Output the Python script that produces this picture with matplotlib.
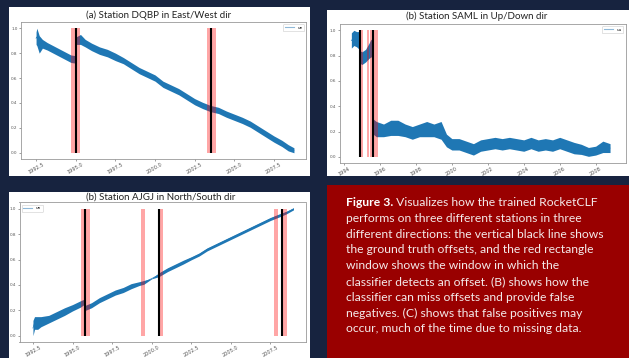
import matplotlib
matplotlib.use('Agg')
import matplotlib.pyplot as plt
import numpy as np
from matplotlib.patches import Rectangle
from matplotlib.lines import Line2D

# ---------------- data ----------------
# (a) Station DQBP, East/West
a_years  = [1992.5, 1992.55, 1992.7, 1992.9, 1993.2, 1993.5, 1993.8, 1994.1, 1994.4, 1994.7, 1994.98,
            1995.02, 1995.3, 1995.6, 1996.0, 1996.5, 1997.0, 1997.5, 1998.0, 1998.5, 1999.0, 1999.5,
            2000.0, 2000.5, 2001.0, 2001.5, 2002.0, 2002.5, 2003.0, 2003.5, 2004.0, 2004.5, 2005.0,
            2005.5, 2006.0, 2006.5, 2007.0, 2007.5, 2008.0, 2008.4, 2008.76]
a_center = [0.92, 0.93, 0.87, 0.875, 0.855, 0.835, 0.815, 0.795, 0.775, 0.755, 0.75,
            0.90, 0.91, 0.88, 0.85, 0.82, 0.80, 0.77, 0.74, 0.70, 0.66, 0.63,
            0.60, 0.55, 0.52, 0.49, 0.45, 0.41, 0.38, 0.355, 0.34, 0.31, 0.285,
            0.26, 0.23, 0.19, 0.15, 0.11, 0.075, 0.04, 0.02]
a_spread = [0.05, 0.07, 0.07, 0.035, 0.03, 0.03, 0.03, 0.03, 0.03, 0.03, 0.03,
            0.03, 0.04, 0.03, 0.03, 0.03, 0.03, 0.03, 0.025, 0.025, 0.025, 0.025,
            0.025, 0.025, 0.025, 0.025, 0.025, 0.025, 0.025, 0.025, 0.025, 0.025, 0.025,
            0.025, 0.025, 0.025, 0.025, 0.025, 0.025, 0.025, 0.02]
a_windows = [(1994.69, 1995.28), (2003.25, 2003.82)]
a_truth = [1995.0, 2003.53]

# (b) Station SAML, Up/Down
b_years  = [1994.41, 1994.55, 1994.7, 1994.85, 1994.88, 1995.0, 1995.2, 1995.4, 1995.5, 1995.6,
            1995.62, 1995.8, 1996.2, 1996.6, 1997.0, 1997.4, 1997.8, 1998.2, 1998.6, 1999.0,
            1999.4, 1999.7, 2000.0, 2000.4, 2000.8, 2001.2, 2001.6, 2002.0, 2002.4, 2002.8,
            2003.2, 2003.6, 2004.0, 2004.4, 2004.8, 2005.2, 2005.6, 2006.0, 2006.4, 2006.8,
            2007.2, 2007.6, 2008.0, 2008.4, 2008.8]
b_center = [0.92, 0.94, 0.93, 0.92, 0.79, 0.78, 0.80, 0.84, 0.86, 0.85,
            0.24, 0.22, 0.21, 0.23, 0.23, 0.21, 0.19, 0.21, 0.22, 0.21,
            0.21, 0.13, 0.10, 0.10, 0.08, 0.06, 0.09, 0.10, 0.11, 0.10,
            0.11, 0.10, 0.09, 0.11, 0.09, 0.10, 0.09, 0.11, 0.09, 0.07,
            0.06, 0.04, 0.05, 0.08, 0.07]
b_spread = [0.06, 0.06, 0.06, 0.07, 0.05, 0.05, 0.05, 0.06, 0.07, 0.06,
            0.06, 0.06, 0.05, 0.06, 0.06, 0.05, 0.05, 0.05, 0.06, 0.05,
            0.07, 0.05, 0.045, 0.045, 0.045, 0.045, 0.045, 0.045, 0.045, 0.045,
            0.045, 0.045, 0.045, 0.045, 0.045, 0.045, 0.045, 0.045, 0.045, 0.045,
            0.04, 0.035, 0.035, 0.045, 0.035]
b_windows = [(1994.93, 1995.08), (1995.26, 1995.41), (1995.44, 1995.56), (1995.65, 1995.91)]
b_truth = [1994.87, 1995.61]

# (c) Station AJGJ, North/South
c_years  = [1992.5, 1992.6, 1992.8, 1993.0, 1993.5, 1994.0, 1994.5, 1995.0, 1995.5, 1995.78,
            1995.82, 1996.2, 1996.7, 1997.2, 1997.7, 1998.2, 1998.7, 1999.2, 1999.5, 2000.0,
            2000.45, 2001.0, 2001.5, 2002.0, 2002.5, 2003.0, 2003.5, 2004.0, 2004.5, 2005.0,
            2005.5, 2006.0, 2006.5, 2007.0, 2007.5, 2008.0, 2008.5, 2008.96]
c_center = [0.06, 0.10, 0.10, 0.11, 0.13, 0.16, 0.19, 0.22, 0.25, 0.27,
            0.22, 0.24, 0.28, 0.31, 0.34, 0.36, 0.39, 0.41, 0.42, 0.45,
            0.48, 0.52, 0.55, 0.58, 0.61, 0.64, 0.68, 0.71, 0.74, 0.77,
            0.80, 0.83, 0.86, 0.89, 0.92, 0.945, 0.97, 1.00]
c_spread = [0.06, 0.05, 0.05, 0.04, 0.03, 0.03, 0.03, 0.025, 0.025, 0.02,
            0.02, 0.02, 0.02, 0.02, 0.02, 0.02, 0.02, 0.015, 0.015, 0.002,
            0.015, 0.015, 0.015, 0.015, 0.012, 0.012, 0.012, 0.012, 0.012, 0.012,
            0.012, 0.012, 0.012, 0.012, 0.012, 0.012, 0.01, 0.008]
c_windows = [(1995.51, 1996.08), (1999.32, 1999.60), (2000.43, 2000.73), (2007.72, 2007.97), (2008.18, 2008.56)]
c_truth = [1995.8, 2000.48, 2008.26]

titles = ["(a) Station DQBP in East/West dir",
          "(b) Station SAML in Up/Down dir",
          "(b) Station AJGJ in North/South dir"]
legend_labels = ["ue", "uu", "un"]
ac_xticks = [1992.5, 1995.0, 1997.5, 2000.0, 2002.5, 2005.0, 2007.5]
b_xticks = [1994, 1996, 1998, 2000, 2002, 2004, 2006, 2008]
yticks = [0.0, 0.2, 0.4, 0.6, 0.8, 1.0]

caption_bold = "Figure 3."
caption_lines = [" Visualizes how the trained RocketCLF",
                 "performs on three different stations in three",
                 "different directions: the vertical black line shows",
                 "the ground truth offsets, and the red rectangle",
                 "window shows the window in which the",
                 "classifier detects an offset. (B) shows how the",
                 "classifier can miss offsets and provide false",
                 "negatives. (C) shows that false positives may",
                 "occur, much of the time due to missing data."]

# ---------------- layout ----------------
W, H = 629, 358
BG = '#17233f'
fig = plt.figure(figsize=(W/100, H/100), dpi=100)
fig.patch.set_facecolor(BG)

def rect(x0, y0, x1, y1, color):
    fig.add_artist(Rectangle((x0/W, 1-y1/H), (x1-x0)/W, (y1-y0)/H, transform=fig.transFigure,
                             facecolor=color, edgecolor='none', zorder=-5))

def axbox(x0, y0, x1, y1):
    return fig.add_axes([x0/W, 1-y1/H, (x1-x0)/W, (y1-y0)/H])

rect(9, 7, 310, 176, 'white')
rect(327, 10, 629, 176, 'white')
rect(9, 192, 310, 358, 'white')
rect(327, 185, 629, 358, '#990000')

BLUE = '#1f77b4'

def panel(ax, yrs, cen, spr, windows, truth, xlim, xticks, xfmt, label, loc):
    yrs = np.array(yrs); cen = np.array(cen); spr = np.array(spr)
    ax.fill_between(yrs, cen-spr, cen+spr, color=BLUE, lw=0, zorder=2)
    ax.plot(yrs, cen, color=BLUE, lw=0.5, zorder=2.1)
    for a, b in windows:
        ax.fill_between([a, b], 0, 1, color='red', alpha=0.35, lw=0, zorder=3)
    ax.vlines(truth, 0, 1, color='black', lw=1.5, zorder=4)
    ax.set_xlim(*xlim)
    ax.set_ylim(-0.05, 1.05)
    ax.set_xticks(xticks)
    ax.set_xticklabels([xfmt.format(t) for t in xticks], rotation=30, ha='center')
    ax.set_yticks(yticks)
    ax.set_yticklabels([f"{t:.1f}" for t in yticks])
    ax.tick_params(axis='both', length=1.5, width=0.4, colors='#555', pad=1)
    ax.tick_params(axis='x', labelsize=3.6, pad=0.6)
    ax.tick_params(axis='y', labelsize=3.0)
    for s in ax.spines.values():
        s.set_color('#999999'); s.set_linewidth(0.6)
    h = Line2D([], [], color='#8fb8d8', lw=0.8)
    lg = ax.legend([h], [label], loc=loc, fontsize=3, handlelength=2.2, borderpad=0.4,
                   framealpha=1, edgecolor='#cccccc', fancybox=True)
    lg.get_frame().set_linewidth(0.4)

ax_a = axbox(21, 22, 306, 159)
panel(ax_a, a_years, a_center, a_spread, a_windows, a_truth, (1991.55, 2009.52), ac_xticks,
      "{:.1f}", legend_labels[0], 'upper right')
ax_b = axbox(339.5, 24, 625.5, 163.3)
panel(ax_b, b_years, b_center, b_spread, b_windows, b_truth, (1993.75, 2009.66), b_xticks,
      "{:d}", legend_labels[1], 'upper right')
ax_c = axbox(19.5, 202.5, 306, 342)
panel(ax_c, c_years, c_center, c_spread, c_windows, c_truth, (1991.65, 2009.75), ac_xticks,
      "{:.1f}", legend_labels[2], 'upper left')

TF = ['Lato', 'DejaVu Sans']
fig.text(159/W, 1-15/H, titles[0], ha='center', va='center', fontsize=7, family=TF, color='#222')
fig.text(477/W, 1-16/H, titles[1], ha='center', va='center', fontsize=7, family=TF, color='#222')
fig.text(161/W, 1-197/H, titles[2], ha='center', va='center', fontsize=7, family=TF, color='#222')

# caption
r = fig.canvas.get_renderer()
x0 = 346
y0 = 202.5
dy = 15.8
fs = 8.7
tb = fig.text(x0/W, 1-y0/H, caption_bold, ha='left', va='center', fontsize=fs, family=TF,
              weight='bold', color='white')
bb = tb.get_window_extent(renderer=r)
for i, line in enumerate(caption_lines):
    xx = bb.x1 / W if i == 0 else x0/W
    fig.text(xx, 1-(y0+i*dy)/H, line, ha='left', va='center', fontsize=fs, family=TF, color='#f4eaea')

fig.savefig('out.png', dpi=100, facecolor=BG)
